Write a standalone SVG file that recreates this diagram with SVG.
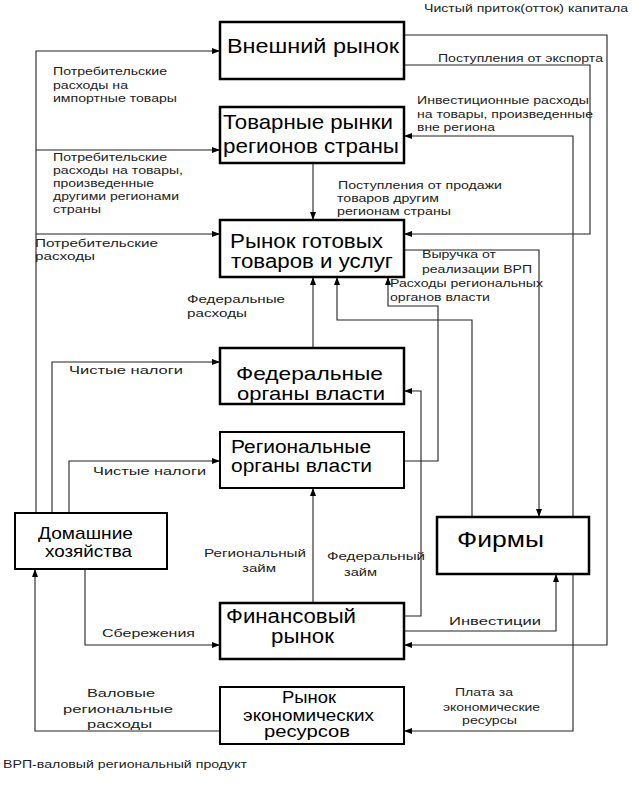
<svg xmlns="http://www.w3.org/2000/svg" width="641" height="788" viewBox="0 0 641 788">
<style>
.box{fill:#fff;stroke:#000;stroke-width:2.5}
.box2{fill:#fff;stroke:#000;stroke-width:2}
.t{font-family:"Liberation Sans",Arial,sans-serif;fill:#000}
.l{font-family:"Liberation Sans",Arial,sans-serif;font-size:11.5px;fill:#222}
.s{font-size:10.5px}
.c{fill:none;stroke:#222;stroke-width:1.1}
</style>
<defs>
<marker id="ah" viewBox="0 0 8 6" refX="8" refY="3" markerWidth="8" markerHeight="6" markerUnits="userSpaceOnUse" orient="auto">
<path d="M0,0 L8,3 L0,6 z" fill="#000"/>
</marker>
</defs>
<rect width="641" height="788" fill="#fff"/>

<g id="connectors">
<path class="c" d="M36,513 V51 H220" marker-end="url(#ah)"/>
<path class="c" d="M36,150 H220" marker-end="url(#ah)"/>
<path class="c" d="M36,234 H220" marker-end="url(#ah)"/>
<path class="c" d="M52,513 V362 H220" marker-end="url(#ah)"/>
<path class="c" d="M69,513 V461 H220" marker-end="url(#ah)"/>
<path class="c" d="M85,569 V645 H220" marker-end="url(#ah)"/>
<path class="c" d="M220,731 H35 V569" marker-end="url(#ah)"/>
<path class="c" d="M313,163 V220" marker-end="url(#ah)"/>
<path class="c" d="M313,348 V277" marker-end="url(#ah)"/>
<path class="c" d="M313,603 V488" marker-end="url(#ah)"/>
<path class="c" d="M404,65 H590 V234 H404" marker-end="url(#ah)"/>
<path class="c" d="M404,35 H607 V645 H404" marker-end="url(#ah)"/>
<path class="c" d="M573,517 V136 H404" marker-end="url(#ah)"/>
<path class="c" d="M573,574 V731 H404" marker-end="url(#ah)"/>
<path class="c" d="M404,250 H539 V517" marker-end="url(#ah)"/>
<path class="c" d="M472,517 V320 H337 V277" marker-end="url(#ah)"/>
<path class="c" d="M404,461 H438 V306 H388 V277" marker-end="url(#ah)"/>
<path class="c" d="M404,616 H421 V391 H404" marker-end="url(#ah)"/>
<path class="c" d="M404,631 H556 V574" marker-end="url(#ah)"/>
</g>

<g id="vneshniy">
<rect class="box" x="220" y="22" width="184" height="57"/>
<text class="t" font-size="21" x="227" y="53" textLength="172" lengthAdjust="spacingAndGlyphs">Внешний рынок</text>
</g>
<g id="tovarnye">
<rect class="box" x="220" y="107" width="184" height="56"/>
<text class="t" font-size="21" x="223" y="129" textLength="170" lengthAdjust="spacingAndGlyphs">Товарные рынки</text>
<text class="t" font-size="21" x="223" y="153" textLength="176" lengthAdjust="spacingAndGlyphs">регионов страны</text>
</g>
<g id="rynok-gotovyh">
<rect class="box" x="220" y="220" width="184" height="57"/>
<text class="t" font-size="20" x="230" y="248" textLength="153" lengthAdjust="spacingAndGlyphs">Рынок готовых</text>
<text class="t" font-size="20" x="231" y="268" textLength="162" lengthAdjust="spacingAndGlyphs">товаров и услуг</text>
</g>
<g id="federalnye">
<rect class="box" x="220" y="348" width="184" height="56"/>
<text class="t" font-size="19" x="236" y="380" textLength="147" lengthAdjust="spacingAndGlyphs">Федеральные</text>
<text class="t" font-size="19" x="237" y="400" textLength="148" lengthAdjust="spacingAndGlyphs">органы власти</text>
</g>
<g id="regionalnye">
<rect class="box2" x="220" y="432" width="184" height="56"/>
<text class="t" font-size="18" x="231" y="453" textLength="140" lengthAdjust="spacingAndGlyphs">Региональные</text>
<text class="t" font-size="18" x="231" y="472" textLength="141" lengthAdjust="spacingAndGlyphs">органы власти</text>
</g>
<g id="finansovyy">
<rect class="box" x="220" y="603" width="184" height="56"/>
<text class="t" font-size="20" x="226" y="623" textLength="130" lengthAdjust="spacingAndGlyphs">Финансовый</text>
<text class="t" font-size="20" x="271" y="643" textLength="63" lengthAdjust="spacingAndGlyphs">рынок</text>
</g>
<g id="resursy">
<rect class="box2" x="220" y="687" width="184" height="57"/>
<text class="t" font-size="16" x="282" y="703" textLength="54" lengthAdjust="spacingAndGlyphs">Рынок</text>
<text class="t" font-size="16" x="243" y="721" textLength="131" lengthAdjust="spacingAndGlyphs">экономических</text>
<text class="t" font-size="16" x="264" y="737" textLength="86" lengthAdjust="spacingAndGlyphs">ресурсов</text>
</g>
<g id="domashnie">
<rect class="box2" x="15" y="513" width="152" height="56"/>
<text class="t" font-size="17" x="38" y="539" textLength="95" lengthAdjust="spacingAndGlyphs">Домашние</text>
<text class="t" font-size="17" x="45" y="557" textLength="87" lengthAdjust="spacingAndGlyphs">хозяйства</text>
</g>
<g id="firmy">
<rect class="box" x="437" y="517" width="152" height="57"/>
<text class="t" font-size="22" x="457" y="547" textLength="87" lengthAdjust="spacingAndGlyphs">Фирмы</text>
</g>

<g id="labels">
<text class="l" x="53" y="75" textLength="114" lengthAdjust="spacingAndGlyphs">Потребительские</text>
<text class="l" x="53" y="89" textLength="75" lengthAdjust="spacingAndGlyphs">расходы на</text>
<text class="l" x="53" y="102" textLength="124" lengthAdjust="spacingAndGlyphs">импортные товары</text>

<text class="l s" x="53" y="161" textLength="114" lengthAdjust="spacingAndGlyphs">Потребительские</text>
<text class="l s" x="53" y="174" textLength="130" lengthAdjust="spacingAndGlyphs">расходы на товары,</text>
<text class="l s" x="53" y="187" textLength="101" lengthAdjust="spacingAndGlyphs">произведенные</text>
<text class="l s" x="53" y="200" textLength="126" lengthAdjust="spacingAndGlyphs">другими регионами</text>
<text class="l s" x="53" y="213" textLength="48" lengthAdjust="spacingAndGlyphs">страны</text>

<text class="l" x="35" y="247" textLength="123" lengthAdjust="spacingAndGlyphs">Потребительские</text>
<text class="l" x="35" y="260" textLength="60" lengthAdjust="spacingAndGlyphs">расходы</text>

<text class="l" x="187" y="303" textLength="98" lengthAdjust="spacingAndGlyphs">Федеральные</text>
<text class="l" x="187" y="317" textLength="60" lengthAdjust="spacingAndGlyphs">расходы</text>

<text class="l" x="69" y="374" textLength="114" lengthAdjust="spacingAndGlyphs">Чистые налоги</text>
<text class="l" x="93" y="475" textLength="113" lengthAdjust="spacingAndGlyphs">Чистые налоги</text>

<text class="l" x="204" y="557" textLength="102" lengthAdjust="spacingAndGlyphs">Региональный</text>
<text class="l" x="242" y="572" textLength="34" lengthAdjust="spacingAndGlyphs">займ</text>

<text class="l" x="327" y="560" textLength="98" lengthAdjust="spacingAndGlyphs">Федеральный</text>
<text class="l" x="344" y="576" textLength="33" lengthAdjust="spacingAndGlyphs">займ</text>

<text class="l" x="102" y="637" textLength="93" lengthAdjust="spacingAndGlyphs">Сбережения</text>

<text class="l" x="87" y="697" textLength="68" lengthAdjust="spacingAndGlyphs">Валовые</text>
<text class="l" x="63" y="713" textLength="110" lengthAdjust="spacingAndGlyphs">региональные</text>
<text class="l" x="87" y="728" textLength="65" lengthAdjust="spacingAndGlyphs">расходы</text>

<text class="l" x="3" y="768" textLength="244" lengthAdjust="spacingAndGlyphs">ВРП-валовый региональный продукт</text>

<text class="l" x="424" y="12" textLength="204" lengthAdjust="spacingAndGlyphs">Чистый приток(отток) капитала</text>
<text class="l" x="438" y="62" textLength="165" lengthAdjust="spacingAndGlyphs">Поступления от экспорта</text>

<text class="l" x="417" y="104" textLength="172" lengthAdjust="spacingAndGlyphs">Инвестиционные расходы</text>
<text class="l" x="417" y="118" textLength="176" lengthAdjust="spacingAndGlyphs">на товары, произведенные</text>
<text class="l" x="417" y="131" textLength="78" lengthAdjust="spacingAndGlyphs">вне региона</text>

<text class="l s" x="338" y="189" textLength="164" lengthAdjust="spacingAndGlyphs">Поступления от продажи</text>
<text class="l s" x="337" y="202" textLength="102" lengthAdjust="spacingAndGlyphs">товаров другим</text>
<text class="l s" x="337" y="215" textLength="114" lengthAdjust="spacingAndGlyphs">регионам страны</text>

<text class="l" x="422" y="258" textLength="74" lengthAdjust="spacingAndGlyphs">Выручка от</text>
<text class="l" x="422" y="273" textLength="110" lengthAdjust="spacingAndGlyphs">реализации ВРП</text>

<text class="l" x="390" y="287" textLength="153" lengthAdjust="spacingAndGlyphs">Расходы региональных</text>
<text class="l" x="390" y="301" textLength="100" lengthAdjust="spacingAndGlyphs">органов власти</text>

<text class="l" x="449" y="625" textLength="92" lengthAdjust="spacingAndGlyphs">Инвестиции</text>

<text class="l" x="455" y="696" textLength="58" lengthAdjust="spacingAndGlyphs">Плата за</text>
<text class="l" x="443" y="711" textLength="97" lengthAdjust="spacingAndGlyphs">экономические</text>
<text class="l" x="462" y="724" textLength="55" lengthAdjust="spacingAndGlyphs">ресурсы</text>
</g>
</svg>
